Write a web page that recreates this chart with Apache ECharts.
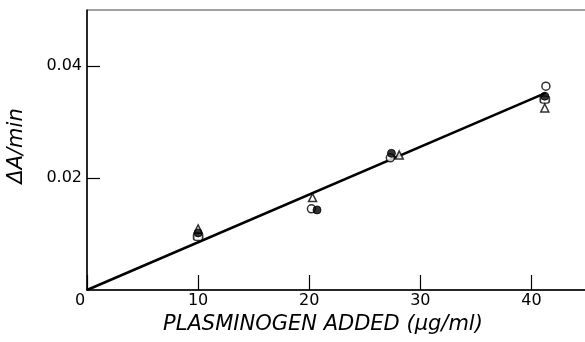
<!DOCTYPE html>
<html><head><meta charset="utf-8">
<script src="https://cdn.jsdelivr.net/npm/echarts@6/dist/echarts.min.js"></script>
<style>html,body{margin:0;padding:0;background:#fff}#c{width:585px;height:342px}</style>
</head><body><div id="c"></div>
<script>
const xTicks = [0, 10, 20, 30, 40];
const yTicks = [0.02, 0.04];
const triangleOpen = [[10.0, 0.0109], [20.3, 0.0165], [28.1, 0.0241], [41.2, 0.0325]];
const circleFilled = [[10.0, 0.0102], [20.7, 0.0143], [27.4, 0.0244], [41.2, 0.0346]];
const circleOpen = [[20.2, 0.0145], [27.3, 0.0236], [41.3, 0.0364]];
const squareOpen = [[10.0, 0.0095], [41.2, 0.0340]];
const fitLine = [[0, 0], [41.3, 0.0352]];

const chart = echarts.init(document.getElementById('c'));
const F = 'DejaVu Sans';
chart.setOption({
  animation: false,
  grid: {left: 87, right: -2, top: 10, bottom: 52, show: true, borderColor: '#444', borderWidth: 1,
    outerBoundsMode: 'none', containLabel: false},
  xAxis: {
    type: 'value', min: 0, max: 45, interval: 10,
    axisLine: {show: true, lineStyle: {color: '#000', width: 1.5}},
    axisTick: {show: true, inside: true, length: 15, lineStyle: {color: '#000', width: 1.2}},
    splitLine: {show: false},
    axisLabel: {
      margin: 3, color: '#000', fontSize: 16, fontFamily: F,
      formatter: v => xTicks.includes(v) ? (v === 0 ? '{z|0}' : String(v)) : '',
      rich: {z: {fontSize: 16, fontFamily: F, color: '#000', padding: [0, 14, 0, 0]}}
    },
    name: 'PLASMINOGEN ADDED (μg/ml)', nameLocation: 'middle', nameGap: 23,
    nameTextStyle: {fontStyle: 'italic', fontSize: 21, fontFamily: F, color: '#000',
      padding: [0, 28, 0, 0]}
  },
  yAxis: {
    type: 'value', min: 0, max: 0.05, interval: 0.01,
    axisLine: {show: true, lineStyle: {color: '#000', width: 1.5}},
    axisTick: {show: true, inside: true, length: 13, lineStyle: {color: '#000', width: 1.2},
      customValues: yTicks},
    splitLine: {show: false},
    axisLabel: {margin: 5, color: '#000', fontSize: 16, fontFamily: F,
      customValues: yTicks, formatter: v => v.toFixed(2)},
    name: 'ΔA/min', nameLocation: 'middle', nameGap: 60, nameRotate: 90,
    nameTextStyle: {fontStyle: 'italic', fontSize: 21, fontFamily: F, color: '#000',
      padding: [0, 0, 0, 8]}
  },
  series: [
    {type: 'line', data: fitLine, symbol: 'none', lineStyle: {color: '#000', width: 2.5}, z: 1},
    {type: 'scatter', data: triangleOpen, symbol: 'triangle', symbolSize: 8,
      itemStyle: {color: '#fff', borderColor: '#000', borderWidth: 1.5}, z: 3},
    {type: 'scatter', data: squareOpen, symbol: 'roundRect', symbolSize: [9, 7],
      itemStyle: {color: '#fff', borderColor: '#000', borderWidth: 1.5}, z: 2},
    {type: 'scatter', data: circleOpen, symbol: 'circle', symbolSize: 8,
      itemStyle: {color: '#fff', borderColor: '#000', borderWidth: 1.5}, z: 3},
    {type: 'scatter', data: circleFilled, symbol: 'circle', symbolSize: 8,
      itemStyle: {color: '#000', borderColor: '#000', borderWidth: 1}, z: 4}
  ]
});
</script></body></html>
